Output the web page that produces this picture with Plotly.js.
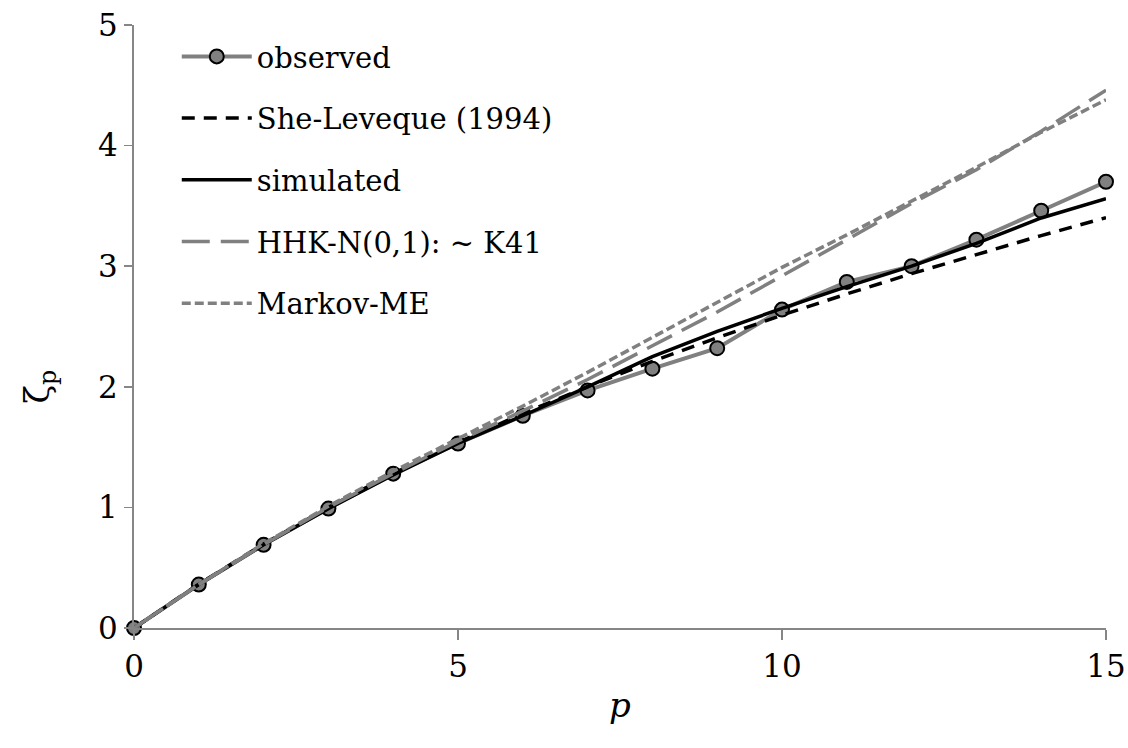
<!DOCTYPE html>
<html>
<head>
<meta charset="utf-8">
<script src="https://cdn.plot.ly/plotly-3.0.1.min.js"></script>
<style>
  html, body { margin: 0; padding: 0; background: #ffffff; }
  #chart { width: 1128px; height: 748px; }
</style>
</head>
<body>
<div id="chart"></div>
<script>
// Scaling exponents zeta_p versus order p
const orders = [0, 1, 2, 3, 4, 5, 6, 7, 8, 9, 10, 11, 12, 13, 14, 15];

const observed    = [0, 0.36, 0.69, 0.99, 1.28, 1.53, 1.76, 1.97, 2.15, 2.32, 2.64, 2.87, 3.00, 3.22, 3.46, 3.70];
const sheLeveque  = [0, 0.364, 0.696, 1.000, 1.280, 1.538, 1.778, 2.001, 2.211, 2.407, 2.594, 2.770, 2.938, 3.099, 3.254, 3.403];
const simulated   = [0, 0.36, 0.69, 0.99, 1.27, 1.53, 1.76, 2.00, 2.25, 2.46, 2.65, 2.83, 3.00, 3.19, 3.40, 3.56];
const hhkN01      = [0, 0.36, 0.69, 1.00, 1.28, 1.55, 1.80, 2.06, 2.34, 2.62, 2.92, 3.22, 3.52, 3.80, 4.12, 4.46];
const markovME    = [0, 0.36, 0.70, 1.01, 1.30, 1.57, 1.84, 2.12, 2.41, 2.70, 2.99, 3.26, 3.54, 3.82, 4.11, 4.38];

const xTicks = [0, 5, 10, 15];
const yTicks = [0, 1, 2, 3, 4, 5];

const GRAY = '#808080';
const FONT = 'DejaVu Serif';

const traces = [
  {
    x: orders, y: observed, name: 'observed', legendgroup: 'a',
    mode: 'lines+markers', cliponaxis: false,
    line: { color: GRAY, width: 4 },
    marker: { size: 14, color: GRAY, line: { color: '#000000', width: 2 } }
  },
  {
    x: orders, y: sheLeveque, name: 'She-Leveque (1994)', legendgroup: 'b',
    mode: 'lines', cliponaxis: false,
    line: { color: '#000000', width: 3.5, dash: '13px,9px' }
  },
  {
    x: orders, y: simulated, name: 'simulated', legendgroup: 'c',
    mode: 'lines', cliponaxis: false,
    line: { color: '#000000', width: 3.5 }
  },
  {
    x: orders, y: hhkN01, name: 'HHK-N(0,1): ~ K41', legendgroup: 'd',
    mode: 'lines', cliponaxis: false,
    line: { color: GRAY, width: 3.5, dash: '28px,11px' }
  },
  {
    x: orders, y: markovME, name: 'Markov-ME', legendgroup: 'e',
    mode: 'lines', cliponaxis: false,
    line: { color: GRAY, width: 3.5, dash: '9px,4px' }
  }
];

const layout = {
  width: 1128, height: 748,
  paper_bgcolor: '#ffffff', plot_bgcolor: '#ffffff',
  margin: { l: 134, r: 22, t: 25, b: 120 },
  font: { family: FONT, size: 30, color: '#000000' },
  showlegend: true,
  legend: {
    x: 0.044, y: 0.99, xanchor: 'left', yanchor: 'top',
    bgcolor: 'rgba(0,0,0,0)', borderwidth: 0,
    font: { family: FONT, size: 29, color: '#000000' },
    itemwidth: 70, tracegroupgap: 21, traceorder: 'grouped'
  },
  xaxis: {
    range: [0, 15], tickvals: xTicks, ticktext: xTicks.map(String),
    showgrid: false, zeroline: false,
    showline: true, linecolor: '#868686', linewidth: 2,
    ticks: 'outside', ticklen: 10, tickwidth: 1.5, tickcolor: '#868686',
    tickfont: { family: FONT, size: 31 },
    title: { text: 'p', font: { family: FONT, size: 34, style: 'italic' }, standoff: 10 },
    fixedrange: true
  },
  yaxis: {
    range: [0, 5], tickvals: yTicks, ticktext: yTicks.map(String),
    showgrid: false, zeroline: false,
    showline: true, linecolor: '#868686', linewidth: 2,
    ticks: 'outside', ticklen: 8, tickwidth: 1.5, tickcolor: '#868686',
    tickfont: { family: FONT, size: 31 },
    fixedrange: true
  },
  annotations: [
    {
      text: 'ζ<sub>p</sub>', xref: 'paper', yref: 'paper',
      x: -0.097, y: 0.40, xanchor: 'center', yanchor: 'middle',
      textangle: -90, showarrow: false,
      font: { family: FONT, size: 34, color: '#000000' }
    }
  ]
};

Plotly.newPlot('chart', traces, layout, { displayModeBar: false, staticPlot: true });
</script>
</body>
</html>
